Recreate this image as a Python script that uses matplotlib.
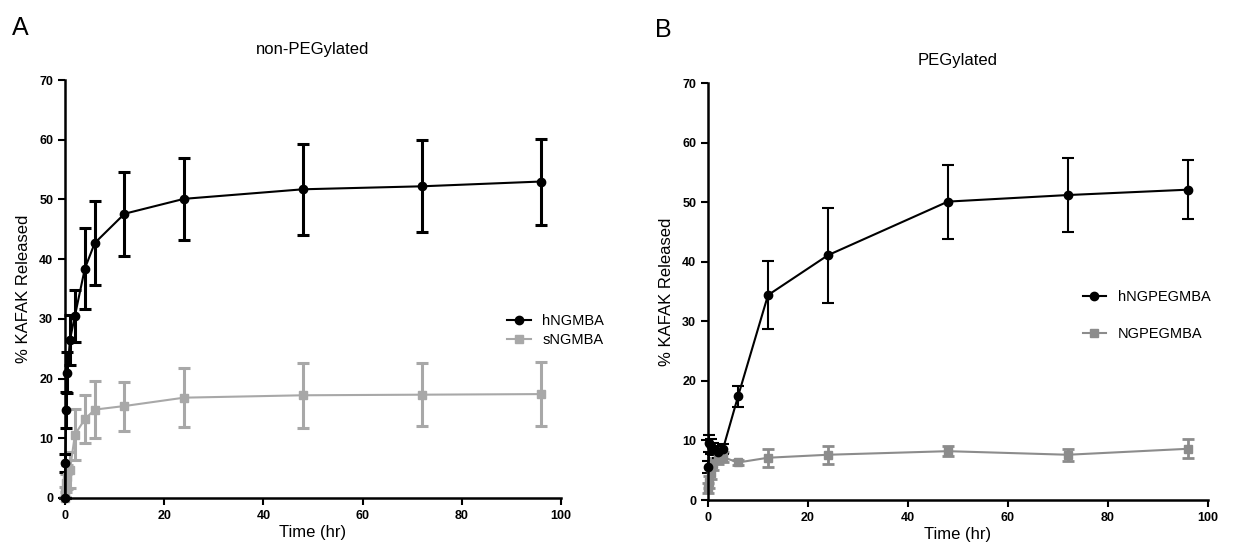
import numpy as np
import matplotlib.pyplot as plt
from matplotlib.lines import Line2D

plt.rcParams['font.family'] = ['Liberation Sans', 'DejaVu Sans']

# panel A: non-PEGylated
time_a = [0, 0.083, 0.25, 0.5, 1, 2, 4, 6, 12, 24, 48, 72, 96]
h_ngmba = [0, 5.8, 14.7, 21.0, 26.5, 30.5, 38.4, 42.7, 47.6, 50.1, 51.7, 52.2, 53.0]
h_ngmba_err = [0, 1.5, 3.0, 3.5, 4.2, 4.3, 6.8, 7.0, 7.0, 6.9, 7.6, 7.7, 7.2]
s_ngmba = [0, 1.0, 2.5, 3.5, 4.7, 10.6, 13.2, 14.8, 15.4, 16.8, 17.2, 17.3, 17.4]
s_ngmba_err = [0, 0.8, 1.5, 2.0, 3.0, 4.3, 4.0, 4.8, 4.1, 4.9, 5.4, 5.3, 5.3]

# panel B: PEGylated
time_b = [0.083, 0.25, 0.5, 1, 2, 3, 6, 12, 24, 48, 72, 96]
h_ngpeg = [5.5, 9.5, 9.0, 8.5, 8.0, 8.6, 17.4, 34.4, 41.1, 50.1, 51.2, 52.1]
h_ngpeg_err = [1.0, 1.5, 1.2, 1.0, 1.0, 0.8, 1.7, 5.7, 8.0, 6.2, 6.2, 4.9]
ngpeg = [2.0, 3.0, 4.5, 6.0, 7.0, 7.2, 6.3, 7.1, 7.6, 8.2, 7.6, 8.6]
ngpeg_err = [0.8, 1.0, 1.0, 1.0, 1.0, 0.8, 0.5, 1.5, 1.5, 0.8, 1.0, 1.6]

fig = plt.figure(figsize=(12.4, 5.53), dpi=100)
ax_a = fig.add_axes([0.0524, 0.0995, 0.400, 0.7558])
ax_b = fig.add_axes([0.5710, 0.0958, 0.403, 0.7540])


def style_axis(ax):
    ax.set_xlim(0, 100)
    ax.set_ylim(0, 70)
    ax.set_xticks(range(0, 101, 20))
    ax.set_yticks(range(0, 71, 10))
    for s in ['top', 'right']:
        ax.spines[s].set_visible(False)
    for s in ['left', 'bottom']:
        ax.spines[s].set_linewidth(1.8)
    ax.tick_params(direction='out', width=1.5, length=5, labelsize=9)
    for lab in ax.get_xticklabels() + ax.get_yticklabels():
        lab.set_fontweight('bold')
    ax.set_xlabel('Time (hr)', fontsize=12, labelpad=2)
    ax.set_ylabel('% KAFAK Released', fontsize=12, labelpad=6)


def legend_handle(color, marker):
    return Line2D([], [], color=color, marker=marker, ms=6, lw=1.5)


ax_a.errorbar(time_a, s_ngmba, yerr=s_ngmba_err, color='#a8a8a8', marker='s', ms=6,
              lw=1.5, elinewidth=2.2, capsize=4, capthick=2.2, clip_on=False)
ax_a.errorbar(time_a, h_ngmba, yerr=h_ngmba_err, color='black', marker='o', ms=6,
              lw=1.5, elinewidth=2.2, capsize=4, capthick=2.2, clip_on=False)
style_axis(ax_a)
ax_a.legend([legend_handle('black', 'o'), legend_handle('#a8a8a8', 's')], ['hNGMBA', 'sNGMBA'],
            loc='center left', bbox_to_anchor=(0.88, 0.40), frameon=False,
            fontsize=10.5, handlelength=1.6, labelspacing=0.35, borderaxespad=0)
ax_a.set_title('non-PEGylated', fontsize=12, pad=19)

ax_b.errorbar(time_b, ngpeg, yerr=ngpeg_err, color='#8c8c8c', marker='s', ms=6,
              lw=1.5, elinewidth=2.0, capsize=4, capthick=2.0, clip_on=False)
ax_b.errorbar(time_b, h_ngpeg, yerr=h_ngpeg_err, color='black', marker='o', ms=6,
              lw=1.5, elinewidth=1.5, capsize=4, capthick=1.5, clip_on=False)
style_axis(ax_b)
ax_b.legend([legend_handle('black', 'o'), legend_handle('#8c8c8c', 's')], ['hNGPEGMBA', 'NGPEGMBA'],
            loc='center left', bbox_to_anchor=(0.738, 0.443), frameon=False,
            fontsize=10.5, handlelength=1.6, labelspacing=1.6, borderaxespad=0)
ax_b.set_title('PEGylated', fontsize=12, pad=13)

fig.text(0.010, 0.95, 'A', fontsize=18, va='center')
fig.text(0.528, 0.945, 'B', fontsize=18, va='center')

fig.savefig('out.png', dpi=100)
